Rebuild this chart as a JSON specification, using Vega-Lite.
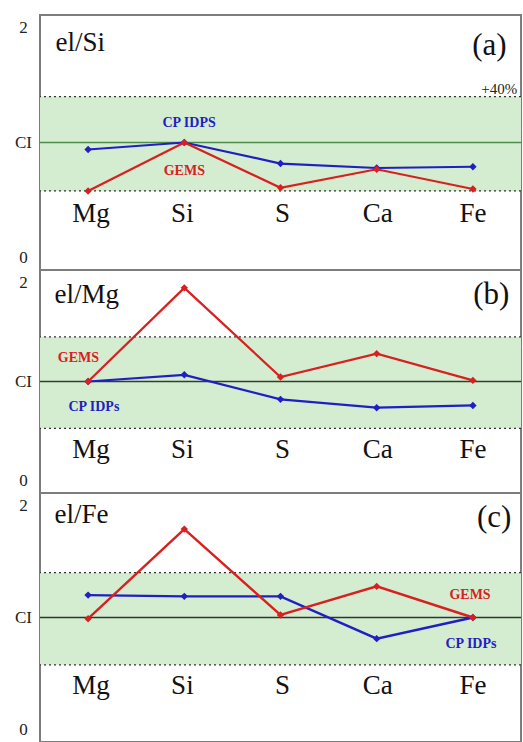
{
"$schema": "https://vega.github.io/schema/vega-lite/v6.json",
"autosize": {"type": "pad"},
"padding": {"left": 13, "top": 14, "right": 1, "bottom": 0},
"spacing": 0,
"bounds": "flush",
"background": "white",
"config": {
  "view": {"stroke": "#7d7d7d", "strokeWidth": 2},
  "concat": {"spacing": 0},
  "text": {"font": "Liberation Serif"},
  "axisX": {"disable": true},
  "axisY": {"title": null},
  "style": {"guide-label": {"font": "Liberation Serif", "fontSize": 17, "fill": "#222"}}
},
"datasets": {
  "bands": [
    {"panel": "a", "lo": 0.62, "hi": 1.36, "ci": 1},
    {"panel": "b", "lo": 0.58, "hi": 1.4, "ci": 1},
    {"panel": "c", "lo": 0.62, "hi": 1.36, "ci": 1}
  ],
  "pts": [
    {"panel": "a", "series": "CP IDPs", "i": 1, "v": 0.945},
    {"panel": "a", "series": "CP IDPs", "i": 2, "v": 1.0},
    {"panel": "a", "series": "CP IDPs", "i": 3, "v": 0.835},
    {"panel": "a", "series": "CP IDPs", "i": 4, "v": 0.8},
    {"panel": "a", "series": "CP IDPs", "i": 5, "v": 0.81},
    {"panel": "a", "series": "GEMS", "i": 1, "v": 0.62},
    {"panel": "a", "series": "GEMS", "i": 2, "v": 1.0},
    {"panel": "a", "series": "GEMS", "i": 3, "v": 0.645},
    {"panel": "a", "series": "GEMS", "i": 4, "v": 0.79},
    {"panel": "a", "series": "GEMS", "i": 5, "v": 0.635},
    {"panel": "b", "series": "CP IDPs", "i": 1, "v": 1.0},
    {"panel": "b", "series": "CP IDPs", "i": 2, "v": 1.06},
    {"panel": "b", "series": "CP IDPs", "i": 3, "v": 0.84},
    {"panel": "b", "series": "CP IDPs", "i": 4, "v": 0.765},
    {"panel": "b", "series": "CP IDPs", "i": 5, "v": 0.785},
    {"panel": "b", "series": "GEMS", "i": 1, "v": 1.0},
    {"panel": "b", "series": "GEMS", "i": 2, "v": 1.84},
    {"panel": "b", "series": "GEMS", "i": 3, "v": 1.04},
    {"panel": "b", "series": "GEMS", "i": 4, "v": 1.25},
    {"panel": "b", "series": "GEMS", "i": 5, "v": 1.01},
    {"panel": "c", "series": "CP IDPs", "i": 1, "v": 1.18},
    {"panel": "c", "series": "CP IDPs", "i": 2, "v": 1.17},
    {"panel": "c", "series": "CP IDPs", "i": 3, "v": 1.17},
    {"panel": "c", "series": "CP IDPs", "i": 4, "v": 0.83},
    {"panel": "c", "series": "CP IDPs", "i": 5, "v": 1.0},
    {"panel": "c", "series": "GEMS", "i": 1, "v": 0.99},
    {"panel": "c", "series": "GEMS", "i": 2, "v": 1.71},
    {"panel": "c", "series": "GEMS", "i": 3, "v": 1.02},
    {"panel": "c", "series": "GEMS", "i": 4, "v": 1.25},
    {"panel": "c", "series": "GEMS", "i": 5, "v": 1.0}
  ],
  "labels": [
    {"panel": "a", "kind": "el", "text": "Mg", "x": 1.03, "y": 0.44},
    {"panel": "a", "kind": "el", "text": "Si", "x": 1.98, "y": 0.44},
    {"panel": "a", "kind": "el", "text": "S", "x": 3.02, "y": 0.44},
    {"panel": "a", "kind": "el", "text": "Ca", "x": 4.01, "y": 0.44},
    {"panel": "a", "kind": "el", "text": "Fe", "x": 5.0, "y": 0.44},
    {"panel": "b", "kind": "el", "text": "Mg", "x": 1.03, "y": 0.39},
    {"panel": "b", "kind": "el", "text": "Si", "x": 1.98, "y": 0.39},
    {"panel": "b", "kind": "el", "text": "S", "x": 3.02, "y": 0.39},
    {"panel": "b", "kind": "el", "text": "Ca", "x": 4.01, "y": 0.39},
    {"panel": "b", "kind": "el", "text": "Fe", "x": 5.0, "y": 0.39},
    {"panel": "c", "kind": "el", "text": "Mg", "x": 1.03, "y": 0.45},
    {"panel": "c", "kind": "el", "text": "Si", "x": 1.98, "y": 0.45},
    {"panel": "c", "kind": "el", "text": "S", "x": 3.02, "y": 0.45},
    {"panel": "c", "kind": "el", "text": "Ca", "x": 4.01, "y": 0.45},
    {"panel": "c", "kind": "el", "text": "Fe", "x": 5.0, "y": 0.45},
    {"panel": "a", "kind": "title", "text": "el/Si", "x": 0.66, "y": 1.78},
    {"panel": "b", "kind": "title", "text": "el/Mg", "x": 0.65, "y": 1.78},
    {"panel": "c", "kind": "title", "text": "el/Fe", "x": 0.65, "y": 1.82},
    {"panel": "a", "kind": "tag", "text": "(a)", "x": 5.35, "y": 1.76},
    {"panel": "b", "kind": "tag", "text": "(b)", "x": 5.38, "y": 1.78},
    {"panel": "c", "kind": "tag", "text": "(c)", "x": 5.4, "y": 1.8},
    {"panel": "a", "kind": "note", "text": "+40%", "x": 5.46, "y": 1.42},
    {"panel": "a", "kind": "series", "series": "CP IDPs", "text": "CP IDPS", "x": 2.05, "y": 1.15},
    {"panel": "a", "kind": "series", "series": "GEMS", "text": "GEMS", "x": 2.0, "y": 0.78},
    {"panel": "b", "kind": "series", "series": "GEMS", "text": "GEMS", "x": 0.9, "y": 1.21},
    {"panel": "b", "kind": "series", "series": "CP IDPs", "text": "CP IDPs", "x": 1.06, "y": 0.77},
    {"panel": "c", "kind": "series", "series": "GEMS", "text": "GEMS", "x": 4.97, "y": 1.18},
    {"panel": "c", "kind": "series", "series": "CP IDPs", "text": "CP IDPs", "x": 4.98, "y": 0.79}
  ]
},
"vconcat": [
  {
    "width": 481, "height": 255,
    "layer": [
      {"data": {"name": "bands"}, "transform": [{"filter": "datum.panel == 'a'"}],
       "mark": {"type": "rect", "color": "#d4ecd0"},
       "encoding": {"y": {"field": "lo", "type": "quantitative", "scale": {"domain": [0, 2]}, "title": null,
          "axis": {"values": [0, 1, 2], "labelExpr": "datum.value == 1 ? 'CI' : '' + datum.value", "ticks": false, "domain": false, "grid": false, "labelFont": "Liberation Serif", "labelFontSize": 17, "labelColor": "#222", "labelPadding": 17, "labelAlign": "center", "labelFlush": true, "labelFlushOffset": -4}},
         "y2": {"field": "hi"}}},
      {"data": {"name": "bands"}, "transform": [{"filter": "datum.panel == 'a'"}],
       "mark": {"type": "rule", "strokeDash": [2, 3], "color": "#333", "strokeWidth": 1.3},
       "encoding": {"y": {"field": "lo", "type": "quantitative", "title": null}}},
      {"data": {"name": "bands"}, "transform": [{"filter": "datum.panel == 'a'"}],
       "mark": {"type": "rule", "strokeDash": [2, 3], "color": "#333", "strokeWidth": 1.3},
       "encoding": {"y": {"field": "hi", "type": "quantitative", "title": null}}},
      {"data": {"name": "bands"}, "transform": [{"filter": "datum.panel == 'a'"}],
       "mark": {"type": "rule", "color": "#4f8a4f", "strokeWidth": 1.3},
       "encoding": {"y": {"field": "ci", "type": "quantitative", "title": null}}},
      {"data": {"name": "pts"}, "transform": [{"filter": "datum.panel == 'a'"}],
       "mark": {"type": "line", "strokeWidth": 2.2},
       "encoding": {"x": {"field": "i", "type": "quantitative", "scale": {"domain": [0.536, 5.495]}, "title": null},
         "y": {"field": "v", "type": "quantitative", "title": null},
         "color": {"field": "series", "type": "nominal", "scale": {"domain": ["CP IDPs", "GEMS"], "range": ["#1f1fc4", "#d82020"]}, "legend": null}}},
      {"data": {"name": "pts"}, "transform": [{"filter": "datum.panel == 'a'"}],
       "mark": {"type": "point", "shape": "diamond", "filled": true, "size": 55, "opacity": 1},
       "encoding": {"x": {"field": "i", "type": "quantitative", "title": null},
         "y": {"field": "v", "type": "quantitative", "title": null},
         "color": {"field": "series", "type": "nominal", "legend": null}}},
      {"data": {"name": "labels"}, "transform": [{"filter": "datum.panel == 'a' && datum.kind == 'el'"}],
       "mark": {"type": "text", "font": "Liberation Serif", "fontSize": 27, "color": "#111", "baseline": "middle", "align": "center"},
       "encoding": {"x": {"field": "x", "type": "quantitative", "title": null}, "y": {"field": "y", "type": "quantitative", "title": null}, "text": {"field": "text"}}},
      {"data": {"name": "labels"}, "transform": [{"filter": "datum.panel == 'a' && datum.kind == 'title'"}],
       "mark": {"type": "text", "font": "Liberation Serif", "fontSize": 27, "color": "#111", "baseline": "middle", "align": "left"},
       "encoding": {"x": {"field": "x", "type": "quantitative", "title": null}, "y": {"field": "y", "type": "quantitative", "title": null}, "text": {"field": "text"}}},
      {"data": {"name": "labels"}, "transform": [{"filter": "datum.panel == 'a' && datum.kind == 'tag'"}],
       "mark": {"type": "text", "font": "Liberation Serif", "fontSize": 31, "color": "#111", "baseline": "middle", "align": "right"},
       "encoding": {"x": {"field": "x", "type": "quantitative", "title": null}, "y": {"field": "y", "type": "quantitative", "title": null}, "text": {"field": "text"}}},
      {"data": {"name": "labels"}, "transform": [{"filter": "datum.panel == 'a' && datum.kind == 'note'"}],
       "mark": {"type": "text", "font": "Liberation Serif", "fontSize": 15, "color": "#222", "baseline": "middle", "align": "right"},
       "encoding": {"x": {"field": "x", "type": "quantitative", "title": null}, "y": {"field": "y", "type": "quantitative", "title": null}, "text": {"field": "text"}}},
      {"data": {"name": "labels"}, "transform": [{"filter": "datum.panel == 'a' && datum.kind == 'series'"}],
       "mark": {"type": "text", "font": "Liberation Serif", "fontSize": 14, "fontWeight": "bold", "baseline": "middle", "align": "center"},
       "encoding": {"x": {"field": "x", "type": "quantitative", "title": null}, "y": {"field": "y", "type": "quantitative", "title": null}, "text": {"field": "text"},
         "color": {"field": "series", "type": "nominal", "legend": null}}}
    ]
  },
  {
    "width": 481, "height": 223,
    "layer": [
      {"data": {"name": "bands"}, "transform": [{"filter": "datum.panel == 'b'"}],
       "mark": {"type": "rect", "color": "#d4ecd0"},
       "encoding": {"y": {"field": "lo", "type": "quantitative", "scale": {"domain": [0, 2]}, "title": null,
          "axis": {"values": [0, 1, 2], "labelExpr": "datum.value == 1 ? 'CI' : '' + datum.value", "ticks": false, "domain": false, "grid": false, "labelFont": "Liberation Serif", "labelFontSize": 17, "labelColor": "#222", "labelPadding": 17, "labelAlign": "center", "labelFlush": true, "labelFlushOffset": -4}},
         "y2": {"field": "hi"}}},
      {"data": {"name": "bands"}, "transform": [{"filter": "datum.panel == 'b'"}],
       "mark": {"type": "rule", "strokeDash": [2, 3], "color": "#333", "strokeWidth": 1.3},
       "encoding": {"y": {"field": "lo", "type": "quantitative", "title": null}}},
      {"data": {"name": "bands"}, "transform": [{"filter": "datum.panel == 'b'"}],
       "mark": {"type": "rule", "strokeDash": [2, 3], "color": "#333", "strokeWidth": 1.3},
       "encoding": {"y": {"field": "hi", "type": "quantitative", "title": null}}},
      {"data": {"name": "bands"}, "transform": [{"filter": "datum.panel == 'b'"}],
       "mark": {"type": "rule", "color": "#2f3f2f", "strokeWidth": 1.3},
       "encoding": {"y": {"field": "ci", "type": "quantitative", "title": null}}},
      {"data": {"name": "pts"}, "transform": [{"filter": "datum.panel == 'b'"}],
       "mark": {"type": "line", "strokeWidth": 2.2},
       "encoding": {"x": {"field": "i", "type": "quantitative", "scale": {"domain": [0.536, 5.495]}, "title": null},
         "y": {"field": "v", "type": "quantitative", "title": null},
         "color": {"field": "series", "type": "nominal", "scale": {"domain": ["CP IDPs", "GEMS"], "range": ["#1f1fc4", "#d82020"]}, "legend": null}}},
      {"data": {"name": "pts"}, "transform": [{"filter": "datum.panel == 'b'"}],
       "mark": {"type": "point", "shape": "diamond", "filled": true, "size": 55, "opacity": 1},
       "encoding": {"x": {"field": "i", "type": "quantitative", "title": null},
         "y": {"field": "v", "type": "quantitative", "title": null},
         "color": {"field": "series", "type": "nominal", "legend": null}}},
      {"data": {"name": "labels"}, "transform": [{"filter": "datum.panel == 'b' && datum.kind == 'el'"}],
       "mark": {"type": "text", "font": "Liberation Serif", "fontSize": 27, "color": "#111", "baseline": "middle", "align": "center"},
       "encoding": {"x": {"field": "x", "type": "quantitative", "title": null}, "y": {"field": "y", "type": "quantitative", "title": null}, "text": {"field": "text"}}},
      {"data": {"name": "labels"}, "transform": [{"filter": "datum.panel == 'b' && datum.kind == 'title'"}],
       "mark": {"type": "text", "font": "Liberation Serif", "fontSize": 27, "color": "#111", "baseline": "middle", "align": "left"},
       "encoding": {"x": {"field": "x", "type": "quantitative", "title": null}, "y": {"field": "y", "type": "quantitative", "title": null}, "text": {"field": "text"}}},
      {"data": {"name": "labels"}, "transform": [{"filter": "datum.panel == 'b' && datum.kind == 'tag'"}],
       "mark": {"type": "text", "font": "Liberation Serif", "fontSize": 31, "color": "#111", "baseline": "middle", "align": "right"},
       "encoding": {"x": {"field": "x", "type": "quantitative", "title": null}, "y": {"field": "y", "type": "quantitative", "title": null}, "text": {"field": "text"}}},
      {"data": {"name": "labels"}, "transform": [{"filter": "datum.panel == 'b' && datum.kind == 'series'"}],
       "mark": {"type": "text", "font": "Liberation Serif", "fontSize": 14, "fontWeight": "bold", "baseline": "middle", "align": "center"},
       "encoding": {"x": {"field": "x", "type": "quantitative", "title": null}, "y": {"field": "y", "type": "quantitative", "title": null}, "text": {"field": "text"},
         "color": {"field": "series", "type": "nominal", "legend": null}}}
    ]
  },
  {
    "width": 481, "height": 249,
    "layer": [
      {"data": {"name": "bands"}, "transform": [{"filter": "datum.panel == 'c'"}],
       "mark": {"type": "rect", "color": "#d4ecd0"},
       "encoding": {"y": {"field": "lo", "type": "quantitative", "scale": {"domain": [0, 2]}, "title": null,
          "axis": {"values": [0, 1, 2], "labelExpr": "datum.value == 1 ? 'CI' : '' + datum.value", "ticks": false, "domain": false, "grid": false, "labelFont": "Liberation Serif", "labelFontSize": 17, "labelColor": "#222", "labelPadding": 17, "labelAlign": "center", "labelFlush": true, "labelFlushOffset": -4}},
         "y2": {"field": "hi"}}},
      {"data": {"name": "bands"}, "transform": [{"filter": "datum.panel == 'c'"}],
       "mark": {"type": "rule", "strokeDash": [2, 3], "color": "#333", "strokeWidth": 1.3},
       "encoding": {"y": {"field": "lo", "type": "quantitative", "title": null}}},
      {"data": {"name": "bands"}, "transform": [{"filter": "datum.panel == 'c'"}],
       "mark": {"type": "rule", "strokeDash": [2, 3], "color": "#333", "strokeWidth": 1.3},
       "encoding": {"y": {"field": "hi", "type": "quantitative", "title": null}}},
      {"data": {"name": "bands"}, "transform": [{"filter": "datum.panel == 'c'"}],
       "mark": {"type": "rule", "color": "#2f352f", "strokeWidth": 1.3},
       "encoding": {"y": {"field": "ci", "type": "quantitative", "title": null}}},
      {"data": {"name": "pts"}, "transform": [{"filter": "datum.panel == 'c'"}],
       "mark": {"type": "line", "strokeWidth": 2.4},
       "encoding": {"x": {"field": "i", "type": "quantitative", "scale": {"domain": [0.536, 5.495]}, "title": null},
         "y": {"field": "v", "type": "quantitative", "title": null},
         "color": {"field": "series", "type": "nominal", "scale": {"domain": ["CP IDPs", "GEMS"], "range": ["#1f1fc4", "#d82020"]}, "legend": null}}},
      {"data": {"name": "pts"}, "transform": [{"filter": "datum.panel == 'c'"}],
       "mark": {"type": "point", "shape": "diamond", "filled": true, "size": 55, "opacity": 1},
       "encoding": {"x": {"field": "i", "type": "quantitative", "title": null},
         "y": {"field": "v", "type": "quantitative", "title": null},
         "color": {"field": "series", "type": "nominal", "legend": null}}},
      {"data": {"name": "labels"}, "transform": [{"filter": "datum.panel == 'c' && datum.kind == 'el'"}],
       "mark": {"type": "text", "font": "Liberation Serif", "fontSize": 27, "color": "#111", "baseline": "middle", "align": "center"},
       "encoding": {"x": {"field": "x", "type": "quantitative", "title": null}, "y": {"field": "y", "type": "quantitative", "title": null}, "text": {"field": "text"}}},
      {"data": {"name": "labels"}, "transform": [{"filter": "datum.panel == 'c' && datum.kind == 'title'"}],
       "mark": {"type": "text", "font": "Liberation Serif", "fontSize": 27, "color": "#111", "baseline": "middle", "align": "left"},
       "encoding": {"x": {"field": "x", "type": "quantitative", "title": null}, "y": {"field": "y", "type": "quantitative", "title": null}, "text": {"field": "text"}}},
      {"data": {"name": "labels"}, "transform": [{"filter": "datum.panel == 'c' && datum.kind == 'tag'"}],
       "mark": {"type": "text", "font": "Liberation Serif", "fontSize": 31, "color": "#111", "baseline": "middle", "align": "right"},
       "encoding": {"x": {"field": "x", "type": "quantitative", "title": null}, "y": {"field": "y", "type": "quantitative", "title": null}, "text": {"field": "text"}}},
      {"data": {"name": "labels"}, "transform": [{"filter": "datum.panel == 'c' && datum.kind == 'series'"}],
       "mark": {"type": "text", "font": "Liberation Serif", "fontSize": 14, "fontWeight": "bold", "baseline": "middle", "align": "center"},
       "encoding": {"x": {"field": "x", "type": "quantitative", "title": null}, "y": {"field": "y", "type": "quantitative", "title": null}, "text": {"field": "text"},
         "color": {"field": "series", "type": "nominal", "legend": null}}}
    ]
  }
]
}
